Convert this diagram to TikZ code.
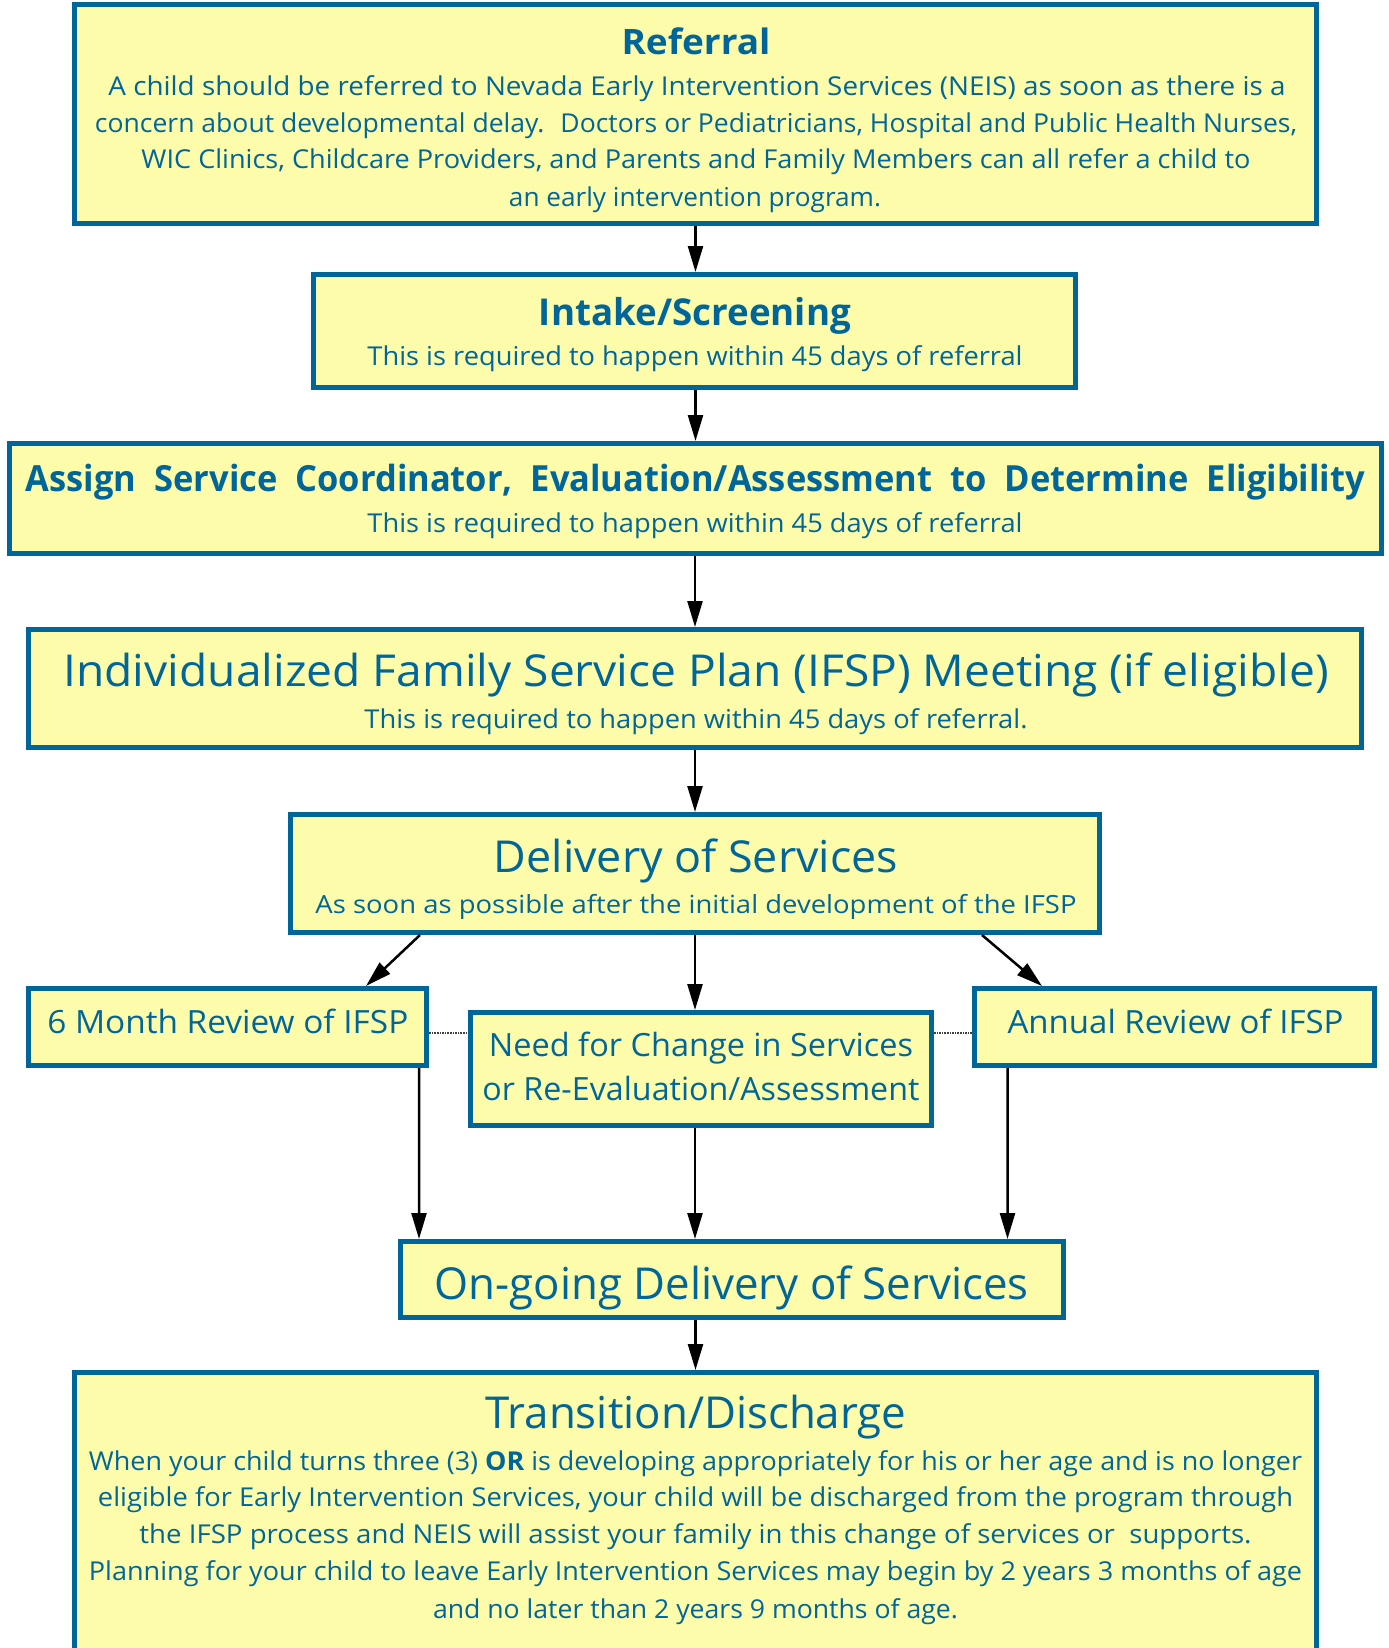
\documentclass[tikz,border=0pt]{standalone}
\usepackage{fontspec}
\setmainfont{Open Sans}
\usetikzlibrary{arrows.meta,calc}
\definecolor{nblue}{HTML}{006699}
\definecolor{nfill}{HTML}{FCFCAA}
\newcommand{\fl}[2]{\resizebox{#1bp}{\height}{#2}}
\newcommand{\fsz}[1]{\fontsize{#1bp}{#1bp}\selectfont}
\begin{document}
\begin{tikzpicture}[x=1bp,y=-1bp,
  box/.style={draw=nblue,fill=nfill,line width=5bp,inner sep=0pt,outer sep=2.5bp},
  txt/.style={text=nblue,inner sep=0pt,anchor=base},
  arr/.style={draw=black,line width=2.5bp,-{Triangle[length=26bp,width=15bp]}},
  dot/.style={draw=black!75,line width=1.6bp,densely dotted}]
\clip (0,0) rectangle (1389,1648);
\fill[white] (0,0) rectangle (1389,1648);

% boxes
\node[box,minimum width=1242bp,minimum height=219bp] (ref) at (695.5,114) {};
\node[box,minimum width=762bp,minimum height=113bp] (intake) at (694.5,331) {};
\node[box,minimum width=1372bp,minimum height=110bp] (assign) at (695.5,498.5) {};
\node[box,minimum width=1333bp,minimum height=118bp] (ifsp) at (695,688.5) {};
\node[box,minimum width=808bp,minimum height=118bp] (deliv) at (695,873.5) {};
\node[box,minimum width=398.5bp,minimum height=77bp] (six) at (227.5,1027) {};
\node[box,minimum width=400bp,minimum height=77bp] (annual) at (1174.5,1027) {};
\node[box,minimum width=461bp,minimum height=113bp] (need) at (701,1069) {};
\node[box,minimum width=663bp,minimum height=76bp] (ongo) at (732,1279.5) {};
\node[box,minimum width=1242bp,minimum height=345bp] (trans) at (695.5,1545) {};

% texts
\node[txt,font=\fsz{35}\bfseries] (reft) at (696,54) {\fl{149}{Referral}};
\node[txt,font=\fsz{26}] (r1) at (697,95.5) {\fl{1177}{A child should be referred to Nevada Early Intervention Services (NEIS) as soon as there is a}};
\node[txt,font=\fsz{26}] (r2) at (696,132) {\fl{1202}{concern about developmental delay.\hspace{0.6em}Doctors or Pediatricians, Hospital and Public Health Nurses,}};
\node[txt,font=\fsz{26}] (r3) at (696,168.5) {\fl{1109}{WIC Clinics, Childcare Providers, and Parents and Family Members can all refer a child to}};
\node[txt,font=\fsz{26}] (r4) at (695,206) {\fl{372}{an early intervention program.}};

\node[txt,font=\fsz{37}\bfseries] (intt) at (695,325) {\fl{312}{Intake/Screening}};
\node[txt,font=\fsz{26}] (ints) at (695,365) {\fl{655}{This is required to happen within 45 days of referral}};

\node[txt,font=\fsz{36}\bfseries] (asst) at (695.5,491) {\fl{1339}{Assign\ \ Service\ \ Coordinator,\ \ Evaluation/Assessment\ \ to\ \ Determine\ \ Eligibility}};
\node[txt,font=\fsz{26}] (asss) at (695,532) {\fl{655}{This is required to happen within 45 days of referral}};

\node[txt,font=\fsz{44}] (ifspt) at (696,686) {\fl{1265}{Individualized Family Service Plan (IFSP) Meeting (if eligible)}};
\node[txt,font=\fsz{26}] (ifsps) at (696,728.5) {\fl{663}{This is required to happen within 45 days of referral.}};

\node[txt,font=\fsz{44}] (delt) at (696,872) {\fl{404}{Delivery of Services}};
\node[txt,font=\fsz{25}] (dels) at (696,913) {\fl{761}{As soon as possible after the initial development of the IFSP}};

\node[txt,font=\fsz{32}] (sixt) at (227.8,1033) {\fl{361}{6 Month Review of IFSP}};
\node[txt,font=\fsz{32}] (annt) at (1175.5,1033) {\fl{336}{Annual Review of IFSP}};
\node[txt,font=\fsz{32}] (need1) at (701,1056.5) {\fl{424}{Need for Change in Services}};
\node[txt,font=\fsz{32}] (need2) at (701,1100) {\fl{437}{or Re-Evaluation/Assessment}};

\node[txt,font=\fsz{44}] (ongt) at (731.7,1299) {\fl{594}{On-going Delivery of Services}};

\node[txt,font=\fsz{44}] (trt) at (696,1428) {\fl{421}{Transition/Discharge}};
\node[txt,font=\fsz{26}] (t1) at (695.5,1470) {\fl{1213}{When your child turns three (3) {\bfseries OR} is developing appropriately for his or her age and is no longer}};
\node[txt,font=\fsz{26}] (t2) at (695.5,1506.7) {\fl{1195}{eligible for Early Intervention Services, your child will be discharged from the program through}};
\node[txt,font=\fsz{26}] (t3) at (695.5,1543) {\fl{1112}{the IFSP process and NEIS will assist your family in this change of services or\ \ supports.}};
\node[txt,font=\fsz{26}] (t4) at (695.5,1580) {\fl{1213}{Planning for your child to leave Early Intervention Services may begin by 2 years 3 months of age}};
\node[txt,font=\fsz{26}] (t5) at (695.5,1618) {\fl{525}{and no later than 2 years 9 months of age.}};

% connectors
\draw[arr] (ref.south) -- (ref.south |- intake.north);
\draw[arr] (intake.south -| ref.south) -- (ref.south |- assign.north);
\draw[arr] (assign.south -| ifsp.north) -- (ifsp.north);
\draw[arr] (ifsp.south) -- (ifsp.south |- deliv.north);
\draw[arr] (deliv.south) -- (deliv.south |- need.north);
\draw[arr] ([xshift=-275bp]deliv.south) -- ([xshift=138.5bp]six.north);
\draw[arr] ([xshift=287bp]deliv.south) -- ([xshift=-132.5bp]annual.north);
\draw[arr] ([xshift=191.5bp]six.south) -- ([xshift=-313bp]ongo.north);
\draw[arr] (need.south -| deliv.south) -- (deliv.south |- ongo.north);
\draw[arr] ([xshift=-167bp]annual.south) -- ([xshift=275.5bp]ongo.north);
\draw[arr] (trans.north |- ongo.south) -- (trans.north);
\draw[dot] ([yshift=-6bp]six.east) -- ([yshift=-6bp]six.east -| need.west);
\draw[dot] ([yshift=36bp]need.east) -- ([yshift=36bp]need.east -| annual.west);
\end{tikzpicture}
\end{document}
